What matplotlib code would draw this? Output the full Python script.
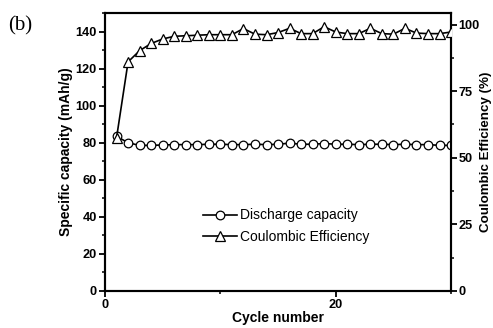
import matplotlib
matplotlib.use("Agg")
import matplotlib.pyplot as plt
from matplotlib.ticker import MultipleLocator

cycles = list(range(1, 31))
discharge_capacity = [83.5, 80.0, 78.6, 78.6, 78.8, 79.0, 79.0, 79.0, 79.2, 79.2,
                      79.0, 79.0, 79.2, 79.0, 79.2, 79.8, 79.2, 79.2, 79.6, 79.2,
                      79.2, 79.0, 79.2, 79.2, 79.0, 79.2, 79.0, 79.0, 78.6, 78.6]
coulombic_eff = [57.5, 86.0, 90.2, 92.9, 94.6, 95.6, 95.8, 96.0, 96.2, 96.2,
                 96.2, 98.5, 96.4, 96.2, 97.0, 98.6, 96.6, 96.6, 99.2, 97.2,
                 96.6, 96.6, 98.6, 96.6, 96.4, 98.6, 96.8, 96.6, 96.6, 97.2]

plt.rcParams['font.family'] = ['Liberation Sans', 'DejaVu Sans']

fig = plt.figure(figsize=(4.93, 3.28), dpi=100)
ax = fig.add_axes([0.213, 0.113, 0.702, 0.847])
ax2 = ax.twinx()

l1, = ax.plot(cycles, discharge_capacity, color='black', lw=1.2, marker='o',
              markersize=6.2, markerfacecolor='white', markeredgecolor='black',
              markeredgewidth=0.9, label='Discharge capacity', zorder=3)
l2, = ax2.plot(cycles, coulombic_eff, color='black', lw=1.2, marker='^',
               markersize=7.2, markerfacecolor='white', markeredgecolor='black',
               markeredgewidth=0.9, label='Coulombic Efficiency', zorder=3)

ax.set_xlim(0, 30)
ax.set_ylim(0, 150)
ax2.set_ylim(0, 104.3)

ax.xaxis.set_major_locator(MultipleLocator(20))
ax.xaxis.set_minor_locator(MultipleLocator(10))
ax.yaxis.set_major_locator(MultipleLocator(20))
ax.yaxis.set_minor_locator(MultipleLocator(10))
ax2.yaxis.set_major_locator(MultipleLocator(25))
ax2.yaxis.set_minor_locator(MultipleLocator(12.5))

for a in (ax, ax2):
    for s in a.spines.values():
        s.set_linewidth(1.5)
    a.tick_params(which='major', direction='out', length=4, width=1.3,
                  labelsize=9.2, pad=2)
    a.tick_params(which='minor', direction='out', length=2.5, width=1.1)
    for lab in a.get_xticklabels() + a.get_yticklabels():
        lab.set_fontweight('bold')
ax2.tick_params(which='major', pad=1.2)

ax.set_xlabel('Cycle number', fontsize=10, fontweight='bold', labelpad=0)
ax.set_ylabel('Specific capacity (mAh/g)', fontsize=10, fontweight='bold', labelpad=2)
ax2.set_ylabel('Coulombic Efficiency (%)', fontsize=9.6, fontweight='bold', labelpad=0)

leg = ax.legend(handles=[l1, l2], loc='center left', bbox_to_anchor=(0.263, 0.233),
                frameon=False, fontsize=10, handlelength=2.45, handletextpad=0.2,
                labelspacing=0.55, borderpad=0)

fig.text(0.016, 0.952, '(b)', fontsize=15, family=['Liberation Serif'], va='top')

fig.savefig('out.png', dpi=100)
